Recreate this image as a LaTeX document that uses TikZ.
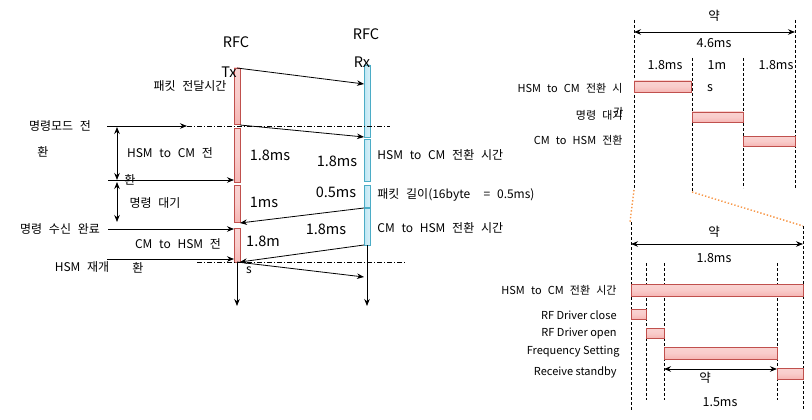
\documentclass[tikz,border=0pt]{standalone}
\usepackage{fontspec}
\setmainfont[WordSpace=2.5]{Noto Sans CJK KR}
\newfontfamily\plainfont{Noto Sans CJK KR}
\usetikzlibrary{arrows.meta}
\tikzset{>={Stealth[length=7pt,width=5.5pt]}}
\usetikzlibrary{positioning}
\definecolor{txFill}{HTML}{F6B6B4}
\definecolor{txLine}{HTML}{C0504D}
\definecolor{rxFill}{HTML}{BDE6F4}
\definecolor{rxLine}{HTML}{4BACC6}
\definecolor{zoomLine}{HTML}{F79646}
\tikzset{
	txbar/.style={draw=txLine,line width=0.9pt,top color=txFill!60,bottom color=txFill,middle color=txFill!70},
	rxbar/.style={draw=rxLine,line width=0.9pt,left color=rxFill,right color=rxFill!60},
	lbl/.style={inner sep=0pt,font=\fontsize{12}{14}\selectfont},
	big/.style={inner sep=0pt,font=\fontsize{14.5}{16}\selectfont},
	small/.style={inner sep=0pt,font=\fontsize{11}{13}\selectfont},
	num/.style={inner sep=0pt,font=\fontsize{12.5}{14}\plainfont},
	smalllat/.style={inner sep=0pt,font=\fontsize{11}{13}\plainfont},
	guide/.style={line width=0.6pt,dash pattern=on 3pt off 2pt},
	cut/.style={line width=0.6pt,dash pattern=on 5pt off 2pt on 1pt off 2pt},
}

\begin{document}
\begin{tikzpicture}[x=1pt,y=-1pt,line width=0.8pt]
				\useasboundingbox (0,0) rectangle (812,420);
				% left: RFC Tx / RFC Rx
				\coordinate (Tx0) at (237,68);
				\coordinate (Tx1) at (240,125);
				\coordinate (Tx2) at (240,223);
				\coordinate (Tx3) at (240,262);
				\coordinate (Tx4) at (237,262);
				\coordinate (TxEnd) at (237,306);
				\coordinate (Rx0) at (364,84);
				\coordinate (Rx1) at (364,137);
				\coordinate (Rx2) at (364,208);
				\coordinate (Rx3) at (364,245);
				\coordinate (Rx4) at (364,277);
				\coordinate (RxTop) at (367,245);
				\coordinate (RxEnd) at (367,306);
				\draw[txbar] (234,68) rectangle (240,124);
				\draw[txbar] (234,128) rectangle (240,182);
				\draw[txbar] (234,185) rectangle (240,222);
				\draw[txbar] (234,228) rectangle (240,262);
				\draw[rxbar] (364,65) rectangle (370,137);
				\draw[rxbar] (364,139) rectangle (370,181);
				\draw[rxbar] (364,185) rectangle (370,207);
				\draw[rxbar] (364,208) rectangle (370,245);
				\draw[cut] (187,126)--(390,126);
				\draw[cut] (197,262)--(405,262);
				\draw[->] (Tx0)--(Rx0);
				\draw[->] (Tx1)--(Rx1);
				\draw[->] (Rx2)--(Tx2);
				\draw[->] (Rx3)--(Tx3);
				\draw[->] (Tx4)--(Rx4);
				\draw[->] (Tx4)--(TxEnd);
				\draw[->] (RxTop)--(RxEnd);
				\coordinate (m0) at (107,126);
				\coordinate (m1) at (187,126);
				\coordinate (m2) at (108,180);
				\coordinate (m3) at (234,180);
				\coordinate (m4) at (108,229);
				\coordinate (m5) at (234,229);
				\coordinate (m6) at (107,259);
				\coordinate (m7) at (234,259);
				\draw[->] (m0)--(m1);
				\draw[->] (m2)--(m3);
				\draw[->] (m4)--(m5);
				\draw[->] (m6)--(m7);
				\draw[<->] (117,127)--(117,180);
				\draw[<->] (117,182)--(117,222);
				\node[big] (rfcT) at (236,42) {RFC};
				\node[big] (txT) at (229,72) {Tx};
				\node[big] (rfcR) at (366,34) {RFC};
				\node[big] (rxT) at (362,62) {Rx};
				\node[lbl] (pkt) at (190,86) {패킷 전달시간};
				\node[lbl] (cmdA) at (60,126) {명령모드 전};
				\node[lbl] (cmdB) at (43,152) {환};
				\node[lbl] (hcA) at (170,153) {HSM to CM 전};
				\node[lbl] (hcB) at (130,180) {환};
				\node[lbl] (wait) at (155,203) {명령 대기};
				\node[lbl] (recv) at (60,229) {명령 수신 완료};
				\node[lbl] (chA) at (178,244) {CM to HSM 전};
				\node[lbl] (chB) at (138,268) {환};
				\node[lbl] (resume) at (82,267) {HSM 재개};
				\node[big] (tA) at (270,155) {1.8ms};
				\node[big] (tB) at (264,202) {1ms};
				\node[big] (tC) at (263,241) {1.8m};
				\node[lbl] (tCs) at (249,270) {s};
				\node[big] (rA) at (337,161) {1.8ms};
				\node[big] (rB) at (336,192) {0.5ms};
				\node[big] (rC) at (326,229) {1.8ms};
				\node[lbl,anchor=west] (rxA) at (377,155) {HSM to CM 전환 시간};
				\node[lbl,anchor=west] (rxB) at (377,195) {패킷 길이(16byte\ \ = 0.5ms)};
				\node[lbl,anchor=west] (rxC) at (377,228) {CM to HSM 전환 시간};
				% right top: 4.6ms
				\draw[guide] (634,20)--(634,190);
				\draw[guide] (692,58)--(692,192);
				\draw[guide] (743,58)--(743,188);
				\draw[guide] (795,20)--(795,188);
				\draw[<->] (634,32)--(795,32);
				\node[num] (aboutA) at (714,16) {약};
				\node[num] (total) at (714,43) {4.6ms};
				\node[num] (sA) at (665,65) {1.8ms};
				\node[num] (sB) at (717,65) {1m};
				\node[num] (sBs) at (710,88) {s};
				\node[num] (sC) at (776,65) {1.8ms};
				\draw[txbar] (634,81) rectangle (691,92);
				\draw[txbar] (692,112) rectangle (743,122);
				\draw[txbar] (743,136) rectangle (795,146);
				\node[small,anchor=east] (bA) at (623,88) {HSM to CM 전환 시};
				\node[small,anchor=east] (bB) at (623,115) {명령 대기};
				\node[small,anchor=east] (bBx) at (624,112) {간};
				\node[small,anchor=east] (bC) at (623,140) {CM to HSM 전환};
				\draw[zoomLine,dotted,line width=1.4pt] (634,190)--(630,222);
				\draw[zoomLine,dotted,line width=1.4pt] (692,192)--(803,226);
				% right bottom: 1.8ms
				\draw[guide] (631,222)--(631,410);
				\draw[guide] (803,226)--(803,410);
				\draw[guide] (646,263)--(646,400);
				\draw[guide] (664,263)--(664,400);
				\draw[guide] (777,263)--(777,400);
				\draw[<->] (631,244)--(803,244);
				\node[num] (aboutB) at (714,232) {약};
				\node[num] (part) at (714,258) {1.8ms};
				\draw[txbar] (631,284) rectangle (803,296);
				\draw[txbar] (631,309) rectangle (646,319);
				\draw[txbar] (646,328) rectangle (664,338);
				\draw[txbar] (664,347) rectangle (777,359);
				\draw[txbar] (777,368) rectangle (803,379);
				\node[small,anchor=east] (cA) at (617,290) {HSM to CM 전환 시간};
				\node[smalllat,anchor=east] (cB) at (617,315) {RF Driver close};
				\node[smalllat,anchor=east] (cC) at (617,333) {RF Driver open};
				\node[smalllat,anchor=east] (cD) at (620,352) {Frequency Setting};
				\node[smalllat,anchor=east] (cE) at (617,372) {Receive standby};
				\draw[<->] (664,369)--(777,369);
				\node[num] (aboutC) at (705,378) {약};
				\node[num] (setT) at (720,402) {1.5ms};
\end{tikzpicture}
\end{document}
